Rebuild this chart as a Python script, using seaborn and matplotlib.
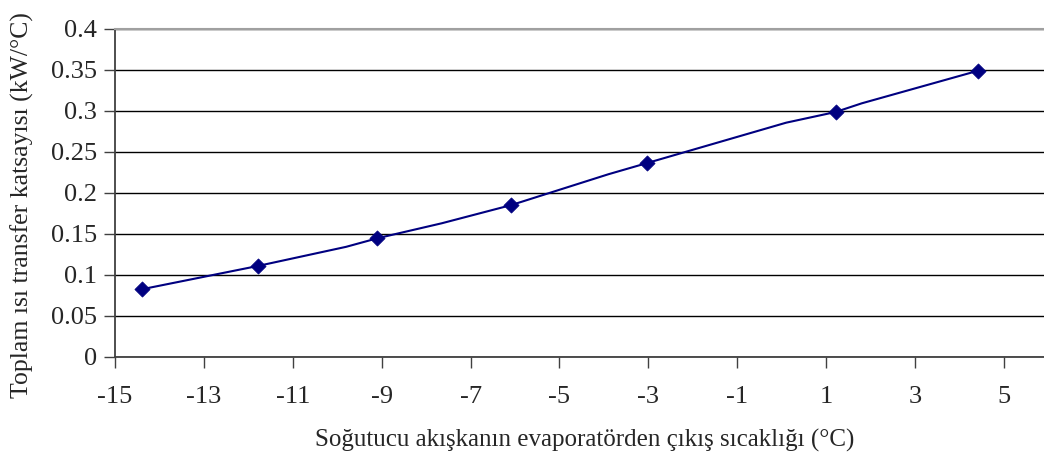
import seaborn as sns
import matplotlib.pyplot as plt

# measured points (diamond markers)
temp_points = [-14.40, -11.79, -9.10, -6.08, -3.04, 1.21, 4.42]
coef_points = [0.0822, 0.1106, 0.1444, 0.185, 0.236, 0.2984, 0.3488]

# smoothed line as drawn in the original (includes the small bends)
temp_curve = [-14.40, -11.79, -9.8, -9.10, -7.65, -6.08, -3.9, -3.04, 0.1, 1.21, 1.8, 4.42]
coef_curve = [0.0822, 0.1106, 0.134, 0.1444, 0.1627, 0.185, 0.2225, 0.236, 0.2854, 0.2984, 0.309, 0.3488]

x_ticks = [-15, -13, -11, -9, -7, -5, -3, -1, 1, 3, 5]
y_ticks = [0, 0.05, 0.1, 0.15, 0.2, 0.25, 0.3, 0.35, 0.4]
y_tick_labels = ['0', '0.05', '0.1', '0.15', '0.2', '0.25', '0.3', '0.35', '0.4']

sns.set_style("white")
plt.rcParams['font.family'] = ['Liberation Serif', 'DejaVu Serif']

fig = plt.figure(figsize=(10.44, 4.65), dpi=100)
ax = fig.add_axes([115 / 1044, 1 - 356.7 / 465, 1 - 115 / 1044, (356.7 - 28.7) / 465])

navy = '#000080'
sns.lineplot(x=temp_curve, y=coef_curve, sort=False, color=navy, linewidth=1.5, ax=ax)
sns.scatterplot(x=temp_points, y=coef_points, marker='D', s=60, color=navy,
                edgecolor=navy, linewidth=0.5, ax=ax, zorder=3)

ax.set_xlim(-15, 5.9)
ax.set_ylim(0, 0.4)
ax.set_xticks(x_ticks)
ax.set_xticklabels([str(t) for t in x_ticks])
ax.set_yticks(y_ticks)
ax.set_yticklabels(y_tick_labels)

ax.yaxis.grid(True, color='black', linewidth=1.0)
ax.set_axisbelow(True)

for side in ['left', 'bottom']:
    ax.spines[side].set_color('#404040')
    ax.spines[side].set_linewidth(1.3)
ax.spines['top'].set_color('#a0a0a0')
ax.spines['top'].set_linewidth(1.5)
ax.spines['right'].set_visible(False)

ax.tick_params(axis='both', direction='out', length=8, width=1.0, color='#404040',
               labelsize=19, pad=5, left=True, bottom=True)
ax.tick_params(axis='x', pad=13)

ax.set_xlabel('Soğutucu akışkanın evaporatörden çıkış sıcaklığı (°C)', fontsize=18)
ax.set_ylabel('Toplam ısı transfer katsayısı (kW/°C)', fontsize=18.5)
ax.xaxis.set_label_coords(0.506, -0.254)
ax.xaxis.label.set_va('center')
ax.yaxis.set_label_coords(-0.100, 0.4625)
ax.yaxis.label.set_va('center')

fig.savefig('out.png', dpi=100)
